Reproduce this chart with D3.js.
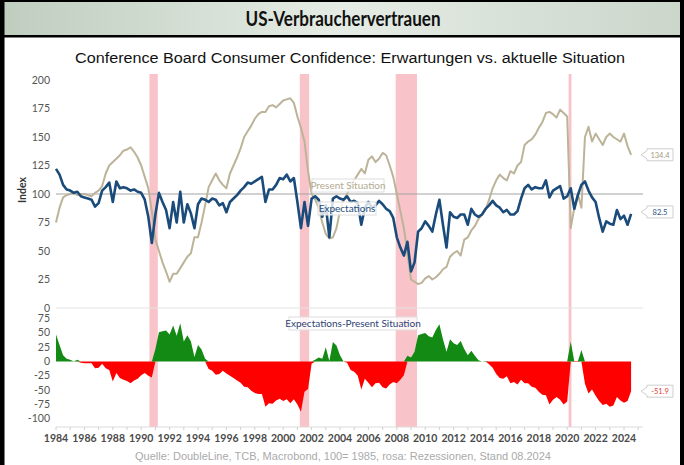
<!DOCTYPE html>
<html><head><meta charset="utf-8">
<script src="https://cdn.jsdelivr.net/npm/d3@7"></script>
<style>body{margin:0;background:#fff}</style>
</head><body><svg width="684" height="465"></svg>
<script>

// quarterly readings, first point 1984 Q1
var startYear = 1984, step = 0.25;

var expectations = [
  122,117,108,104, 103,101,102,98, 97,96,95,89, 92,103,106,110, 93,111,105,106,
  105,103,104,102, 101,95,80,57, 82,101,93,86, 70,93,75,102, 75,91,83,70,
  91,96,95,93, 96,95,90,92, 84,93,96,99, 103,106,110,109, 111,113,115,93,
  104,104,108,114, 113,117,111,114, 93,70,93,72, 96,98,95,80, 90,62,96,98,
  96,95,98,93, 94,92,73,88, 93,88,90,94, 91,87,85,79, 62,53,46,58,
  32,40,67,70, 76,72,67,82, 95,73,53,84, 80,79,82,82, 73,87,82,80,
  82,87,90,94, 90,88,84,86, 82,82,85,96, 105,108,104,106, 105,105,112,97,
  103,105,107,96, 98,105,87,99, 108,111,103,97, 93,79,67,76, 74,73,86,78,
  81,73,82.5
];

var present = [
  75,88,97,99, 100,101,99,100, 100,99,98,101, 103,107,118,125, 128,131,134,138,
  139,141,137,132, 125,115,105,85, 60,50,40,32, 23,30,30,35, 40,45,48,62,
  62,75,90,106, 112,118,112,108, 105,118,125,132, 140,150,155,160, 166,170,172,172,
  177,178,176,179, 182,183,184,180, 168,158,146,120, 100,95,88,75, 65,61,62,70,
  85,95,100,108, 112,117,122,118, 130,133,128,131, 136,134,125,115, 100,85,70,48,
  25,23,21,22, 26,28,25,27, 30,34,36,45, 48,50,46,60, 62,68,72,78,
  82,86,95,105, 112,117,114,112, 120,118,125,128, 143,146,148,152, 158,163,171,172,
  170,167,174,171, 168,70,88,100, 88,150,159,146, 153,148,143,150, 153,150,148,146,
  153,142,134.4
];

var recessions = [[1990.58, 1991.17], [2001.17, 2001.83], [2007.92, 2009.42], [2020.1, 2020.3]];

var topTicks = [0, 25, 50, 75, 100, 125, 150, 175, 200];
var bottomTicks = [75, 50, 25, 0, -25, -50, -75, -100];
var yearLabels = [1984, 1986, 1988, 1990, 1992, 1994, 1996, 1998, 2000, 2002, 2004,
  2006, 2008, 2010, 2012, 2014, 2016, 2018, 2020, 2022, 2024];

var rows = expectations.map(function(e, i) {
  return { t: startYear + i * step, e: e, p: present[i], g: e - present[i] };
});

var svg = d3.select("svg");
var x = d3.scaleLinear().domain([1984, 2024]).range([56, 624]);
var yTop = d3.scaleLinear().domain([0, 200]).range([308, 80]);
var yBot = d3.scaleLinear().domain([-100, 75]).range([418.7, 318.6]);
var xEnd = 643;

// title bar
var grad = svg.append("defs").append("linearGradient").attr("id", "bar");
grad.append("stop").attr("offset", "0%").attr("stop-color", "#bfcdbf");
grad.append("stop").attr("offset", "50%").attr("stop-color", "#e5ece5");
grad.append("stop").attr("offset", "100%").attr("stop-color", "#cbd6cb");
svg.append("rect").attr("x", 0).attr("y", 0).attr("width", 684).attr("height", 36).attr("fill", "url(#bar)");
svg.append("rect").attr("x", 0).attr("y", 0).attr("width", 684).attr("height", 2).attr("fill", "#000");
svg.append("rect").attr("x", 0).attr("y", 35).attr("width", 684).attr("height", 2.5).attr("fill", "#000");
svg.append("rect").attr("x", 0).attr("y", 0).attr("width", 4.5).attr("height", 465).attr("fill", "#000");
svg.append("rect").attr("x", 680).attr("y", 0).attr("width", 4).attr("height", 465).attr("fill", "#000");

svg.append("text").attr("x", 343).attr("y", 26).attr("text-anchor", "middle")
  .attr("font-family", "Lato, sans-serif").attr("font-weight", "bold").attr("font-size", 20)
  .attr("textLength", 195).attr("lengthAdjust", "spacingAndGlyphs")
  .attr("fill", "#111").text("US-Verbrauchervertrauen");

svg.append("text").attr("x", 350).attr("y", 63).attr("text-anchor", "middle")
  .attr("font-family", "Liberation Sans, Arial, sans-serif").attr("font-size", 15.5)
  .attr("textLength", 550).attr("lengthAdjust", "spacingAndGlyphs")
  .attr("fill", "#111").text("Conference Board Consumer Confidence: Erwartungen vs. aktuelle Situation");

// recessions
svg.append("g").selectAll("rect").data(recessions).join("rect")
  .attr("x", function(d) { return x(d[0]); })
  .attr("width", function(d) { return Math.max(2, x(d[1]) - x(d[0])); })
  .attr("y", 74).attr("height", 427 - 74)
  .attr("fill", "#f8c4ca");

// grid / reference lines
svg.append("line").attr("x1", 56).attr("x2", xEnd).attr("y1", yTop(0)).attr("y2", yTop(0))
  .attr("stroke", "#e3e3e3").attr("stroke-width", 1);
svg.append("line").attr("x1", 56).attr("x2", xEnd).attr("y1", 427).attr("y2", 427)
  .attr("stroke", "#dcdcdc").attr("stroke-width", 1);
svg.append("g").selectAll("line").data(d3.range(1984, 2026)).join("line")
  .attr("x1", function(d) { return x(d); }).attr("x2", function(d) { return x(d); })
  .attr("y1", 427).attr("y2", 430).attr("stroke", "#d0d0d0");

// y labels
var lab = { "font-family": "Lato, sans-serif", "font-size": 10.5, "fill": "#555" };
function styled(sel, st) { for (var k in st) sel.attr(k, st[k]); return sel; }
styled(svg.append("g").selectAll("text").data(topTicks).join("text"), lab)
  .attr("x", 50).attr("y", function(d) { return yTop(d) + 3.5; })
  .attr("text-anchor", "end").text(function(d) { return d; });
styled(svg.append("g").selectAll("text").data(bottomTicks).join("text"), lab)
  .attr("x", 50).attr("y", function(d) { return yBot(d) + 3.5; })
  .attr("text-anchor", "end").text(function(d) { return d; });
styled(svg.append("g").selectAll("text").data(yearLabels).join("text"), lab)
  .attr("x", function(d) { return x(d); }).attr("y", 442)
  .attr("text-anchor", "middle").attr("font-weight", "bold").attr("fill", "#4a4a4a")
  .text(function(d) { return d; });

svg.append("text").attr("transform", "translate(26,190) rotate(-90)").attr("text-anchor", "middle")
  .attr("font-family", "Lato, sans-serif").attr("font-weight", "bold").attr("font-size", 10.5)
  .attr("fill", "#333").text("Index");

// gap areas
var areaPos = d3.area().x(function(d) { return x(d.t); })
  .y0(yBot(0)).y1(function(d) { return yBot(Math.max(d.g, 0)); });
var areaNeg = d3.area().x(function(d) { return x(d.t); })
  .y0(yBot(0)).y1(function(d) { return yBot(Math.min(d.g, 0)); });
svg.append("path").datum(rows).attr("d", areaNeg).attr("fill", "#ff0000");
svg.append("path").datum(rows).attr("d", areaPos).attr("fill", "#138a13");

// lines
svg.append("line").attr("x1", 56).attr("x2", xEnd).attr("y1", yTop(100)).attr("y2", yTop(100))
  .attr("stroke", "#a3a3a3").attr("stroke-width", 1);
var linePres = d3.line().x(function(d) { return x(d.t); }).y(function(d) { return yTop(d.p); });
var lineExp = d3.line().x(function(d) { return x(d.t); }).y(function(d) { return yTop(d.e); });
svg.append("path").datum(rows).attr("d", linePres).attr("fill", "none")
  .attr("stroke", "#bcb398").attr("stroke-width", 2).attr("stroke-linejoin", "round");
svg.append("path").datum(rows).attr("d", lineExp).attr("fill", "none")
  .attr("stroke", "#1a4b7b").attr("stroke-width", 2.6).attr("stroke-linejoin", "round");

// legend labels
function label(cx, cy, w, txt, color) {
  svg.append("rect").attr("x", cx - w / 2).attr("y", cy - 7).attr("width", w).attr("height", 13)
    .attr("fill", "#fff").attr("fill-opacity", 0.8).attr("stroke", "#dedede");
  svg.append("text").attr("x", cx).attr("y", cy + 3).attr("text-anchor", "middle")
    .attr("font-family", "Lato, sans-serif").attr("font-size", 10).attr("fill", color).text(txt);
}
label(348, 186, 72, "Present Situation", "#b3aa90");
label(347, 209, 58, "Expectations", "#1f4e7e");
label(353, 324, 128, "Expectations-Present Situation", "#2d4373");

// end value tags
var last = rows[rows.length - 1];
function tag(yc, txt, color) {
  var bx = 647, w = 26;
  svg.append("path")
    .attr("d", "M" + (bx - 6) + "," + yc + "L" + bx + "," + (yc - 4) + "L" + bx + "," + (yc - 6) +
      "L" + (bx + w) + "," + (yc - 6) + "L" + (bx + w) + "," + (yc + 6) + "L" + bx + "," + (yc + 6) +
      "L" + bx + "," + (yc + 4) + "Z")
    .attr("fill", "#fff").attr("stroke", "#cfcfcf");
  svg.append("text").attr("x", bx + w / 2).attr("y", yc + 2.8).attr("text-anchor", "middle")
    .attr("font-family", "Lato, sans-serif").attr("font-size", 7.5).attr("fill", color).text(txt);
}
tag(yTop(last.p), "134.4", "#a39a80");
tag(yTop(last.e) - 2, "82.5", "#1f4e7e");
tag(yBot(last.g), "-51.9", "#e23b3b");

svg.append("text").attr("x", 343).attr("y", 460).attr("text-anchor", "middle")
  .attr("font-family", "Liberation Sans, Arial, sans-serif").attr("font-size", 11)
  .attr("fill", "#aaa").text("Quelle: DoubleLine, TCB, Macrobond, 100= 1985, rosa: Rezessionen, Stand 08.2024");

</script>
</body></html>
